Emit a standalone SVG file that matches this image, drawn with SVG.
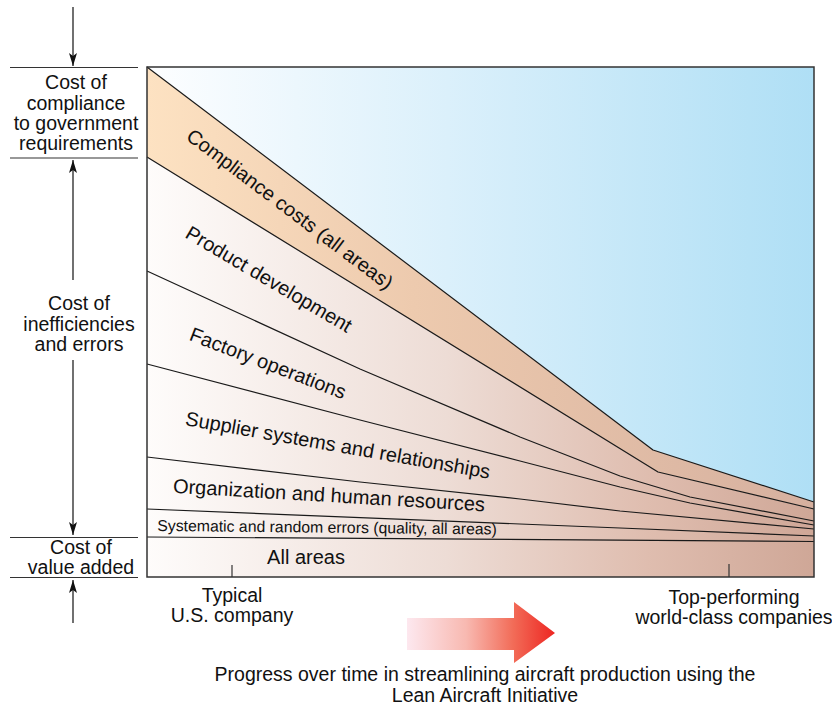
<svg xmlns="http://www.w3.org/2000/svg" width="832" height="706" viewBox="0 0 832 706">
<defs>
  <linearGradient id="gBlue" gradientUnits="userSpaceOnUse" x1="147" y1="0" x2="814" y2="0">
    <stop offset="0" stop-color="#fdfeff"/>
    <stop offset="0.45" stop-color="#dbf0fb"/>
    <stop offset="1" stop-color="#afdff5"/>
  </linearGradient>
  <linearGradient id="gBand" gradientUnits="userSpaceOnUse" x1="147" y1="0" x2="814" y2="0">
    <stop offset="0" stop-color="#fde2c2"/>
    <stop offset="0.4" stop-color="#edcaae"/>
    <stop offset="1" stop-color="#d6b09f"/>
  </linearGradient>
  <linearGradient id="gLow" gradientUnits="userSpaceOnUse" x1="147" y1="0" x2="814" y2="0">
    <stop offset="0" stop-color="#fefcfb"/>
    <stop offset="0.45" stop-color="#eddcd5"/>
    <stop offset="0.75" stop-color="#dfbdaf"/>
    <stop offset="1" stop-color="#cfa797"/>
  </linearGradient>
  <linearGradient id="gArrow" gradientUnits="userSpaceOnUse" x1="407" y1="0" x2="555" y2="0">
    <stop offset="0" stop-color="#fde8ef"/>
    <stop offset="0.4" stop-color="#f8b9b1"/>
    <stop offset="0.72" stop-color="#f26b57"/>
    <stop offset="1" stop-color="#ed2622"/>
  </linearGradient>
  <marker id="ah" viewBox="0 0 13 8" refX="13" refY="4" markerWidth="13" markerHeight="8" orient="auto" markerUnits="userSpaceOnUse">
    <path d="M0,0 L13,4 L0,8 L3,4 Z" fill="#111"/>
  </marker>
</defs>
<style>
  .ln { fill: none; stroke: #1a1a1a; stroke-width: 1.2; stroke-linejoin: round; }
  .rule { stroke: #333; stroke-width: 1.2; }
  .arr { stroke: #111; stroke-width: 1.2; fill: none; marker-end: url(#ah); }
  .t { font-family: "Liberation Sans", Arial, sans-serif; fill: #111; }
  .lbl { font-size: 19.5px; text-anchor: middle; }
  .band { font-size: 20px; text-anchor: middle; }
</style>

<g id="chart-fill">
  <polygon points="147,67 814,67 814,502 653,450" fill="url(#gBlue)"/>
  <polygon points="147,67 653,450 814,502 814,509 658,472 147,157" fill="url(#gBand)"/>
  <polygon points="147,157 658,472 814,509 814,577 147,577" fill="url(#gLow)"/>
</g>

<g id="connectors">
  <path class="ln" d="M147,67 L653,450 L814,502"/>
  <path class="ln" d="M147,157 L658,472 L814,509"/>
  <path class="ln" d="M147,271 L360,369 L520,437 L620,476 L690,497 L814,521"/>
  <path class="ln" d="M147,364 L360,420 L520,461 L620,487 L690,503 L814,525"/>
  <path class="ln" d="M147,457 L360,482 L520,499 L620,511 L814,529"/>
  <path class="ln" d="M147,509 L520,524 L620,528 L814,536"/>
  <path class="ln" d="M147,537 L814,541.5"/>
  <rect x="147" y="67" width="667" height="510" fill="none" stroke="#333" stroke-width="1.5"/>
  <line class="rule" x1="232" y1="565" x2="232" y2="577"/>
  <line class="rule" x1="729" y1="564" x2="729" y2="577"/>
  <line class="rule" x1="10" y1="67.5" x2="138" y2="67.5"/>
  <line class="rule" x1="10" y1="158" x2="138" y2="158"/>
  <line class="rule" x1="10" y1="537.5" x2="138" y2="537.5"/>
  <line class="rule" x1="10" y1="577.5" x2="138" y2="577.5"/>
  <line class="arr" x1="73" y1="7" x2="73" y2="66"/>
  <line class="arr" x1="73" y1="280" x2="73" y2="160"/>
  <line class="arr" x1="73" y1="360" x2="73" y2="535"/>
  <line class="arr" x1="73" y1="623" x2="73" y2="580"/>
</g>

<g id="band-compliance">
  <text class="t band" transform="translate(290,209) rotate(37)" y="7">Compliance costs (all areas)</text>
</g>
<g id="band-product">
  <text class="t band" transform="translate(269,279) rotate(30.5)" y="7">Product development</text>
</g>
<g id="band-factory">
  <text class="t band" transform="translate(268,363) rotate(21)" y="7">Factory operations</text>
</g>
<g id="band-supplier">
  <text class="t band" transform="translate(338,445) rotate(10)" y="7">Supplier systems and relationships</text>
</g>
<g id="band-organization">
  <text class="t band" transform="translate(329,495) rotate(3.4)" y="7">Organization and human resources</text>
</g>
<g id="band-systematic">
  <text class="t" font-size="15.8" text-anchor="middle" transform="translate(327,527) rotate(0.6)" y="5.7">Systematic and random errors (quality, all areas)</text>
</g>
<g id="band-allareas">
  <text class="t band" x="306" y="564" font-size="19.5">All areas</text>
</g>

<g id="label-compliance">
  <text class="t lbl" x="76" y="89">Cost of</text>
  <text class="t lbl" x="76" y="110">compliance</text>
  <text class="t lbl" x="76" y="130">to government</text>
  <text class="t lbl" x="76" y="150">requirements</text>
</g>
<g id="label-inefficiencies">
  <text class="t lbl" x="79" y="310">Cost of</text>
  <text class="t lbl" x="79" y="331">inefficiencies</text>
  <text class="t lbl" x="79" y="351">and errors</text>
</g>
<g id="label-value">
  <text class="t lbl" x="81" y="554" font-size="18.5">Cost of</text>
  <text class="t lbl" x="81" y="574" font-size="18.5">value added</text>
</g>

<g id="label-typical">
  <text class="t lbl" x="232" y="602" font-size="18">Typical</text>
  <text class="t lbl" x="232" y="622" font-size="18">U.S. company</text>
</g>
<g id="label-top">
  <text class="t lbl" x="734" y="604" font-size="18.5">Top-performing</text>
  <text class="t lbl" x="734" y="624" font-size="18.5">world-class companies</text>
</g>

<g id="progress-arrow">
  <polygon points="407,618 514,618 514,602 555,633 514,663 514,650 407,650" fill="url(#gArrow)"/>
</g>

<g id="caption">
  <text class="t lbl" x="485" y="681" font-size="19">Progress over time in streamlining aircraft production using the</text>
  <text class="t lbl" x="485" y="702" font-size="19">Lean Aircraft Initiative</text>
</g>
</svg>
